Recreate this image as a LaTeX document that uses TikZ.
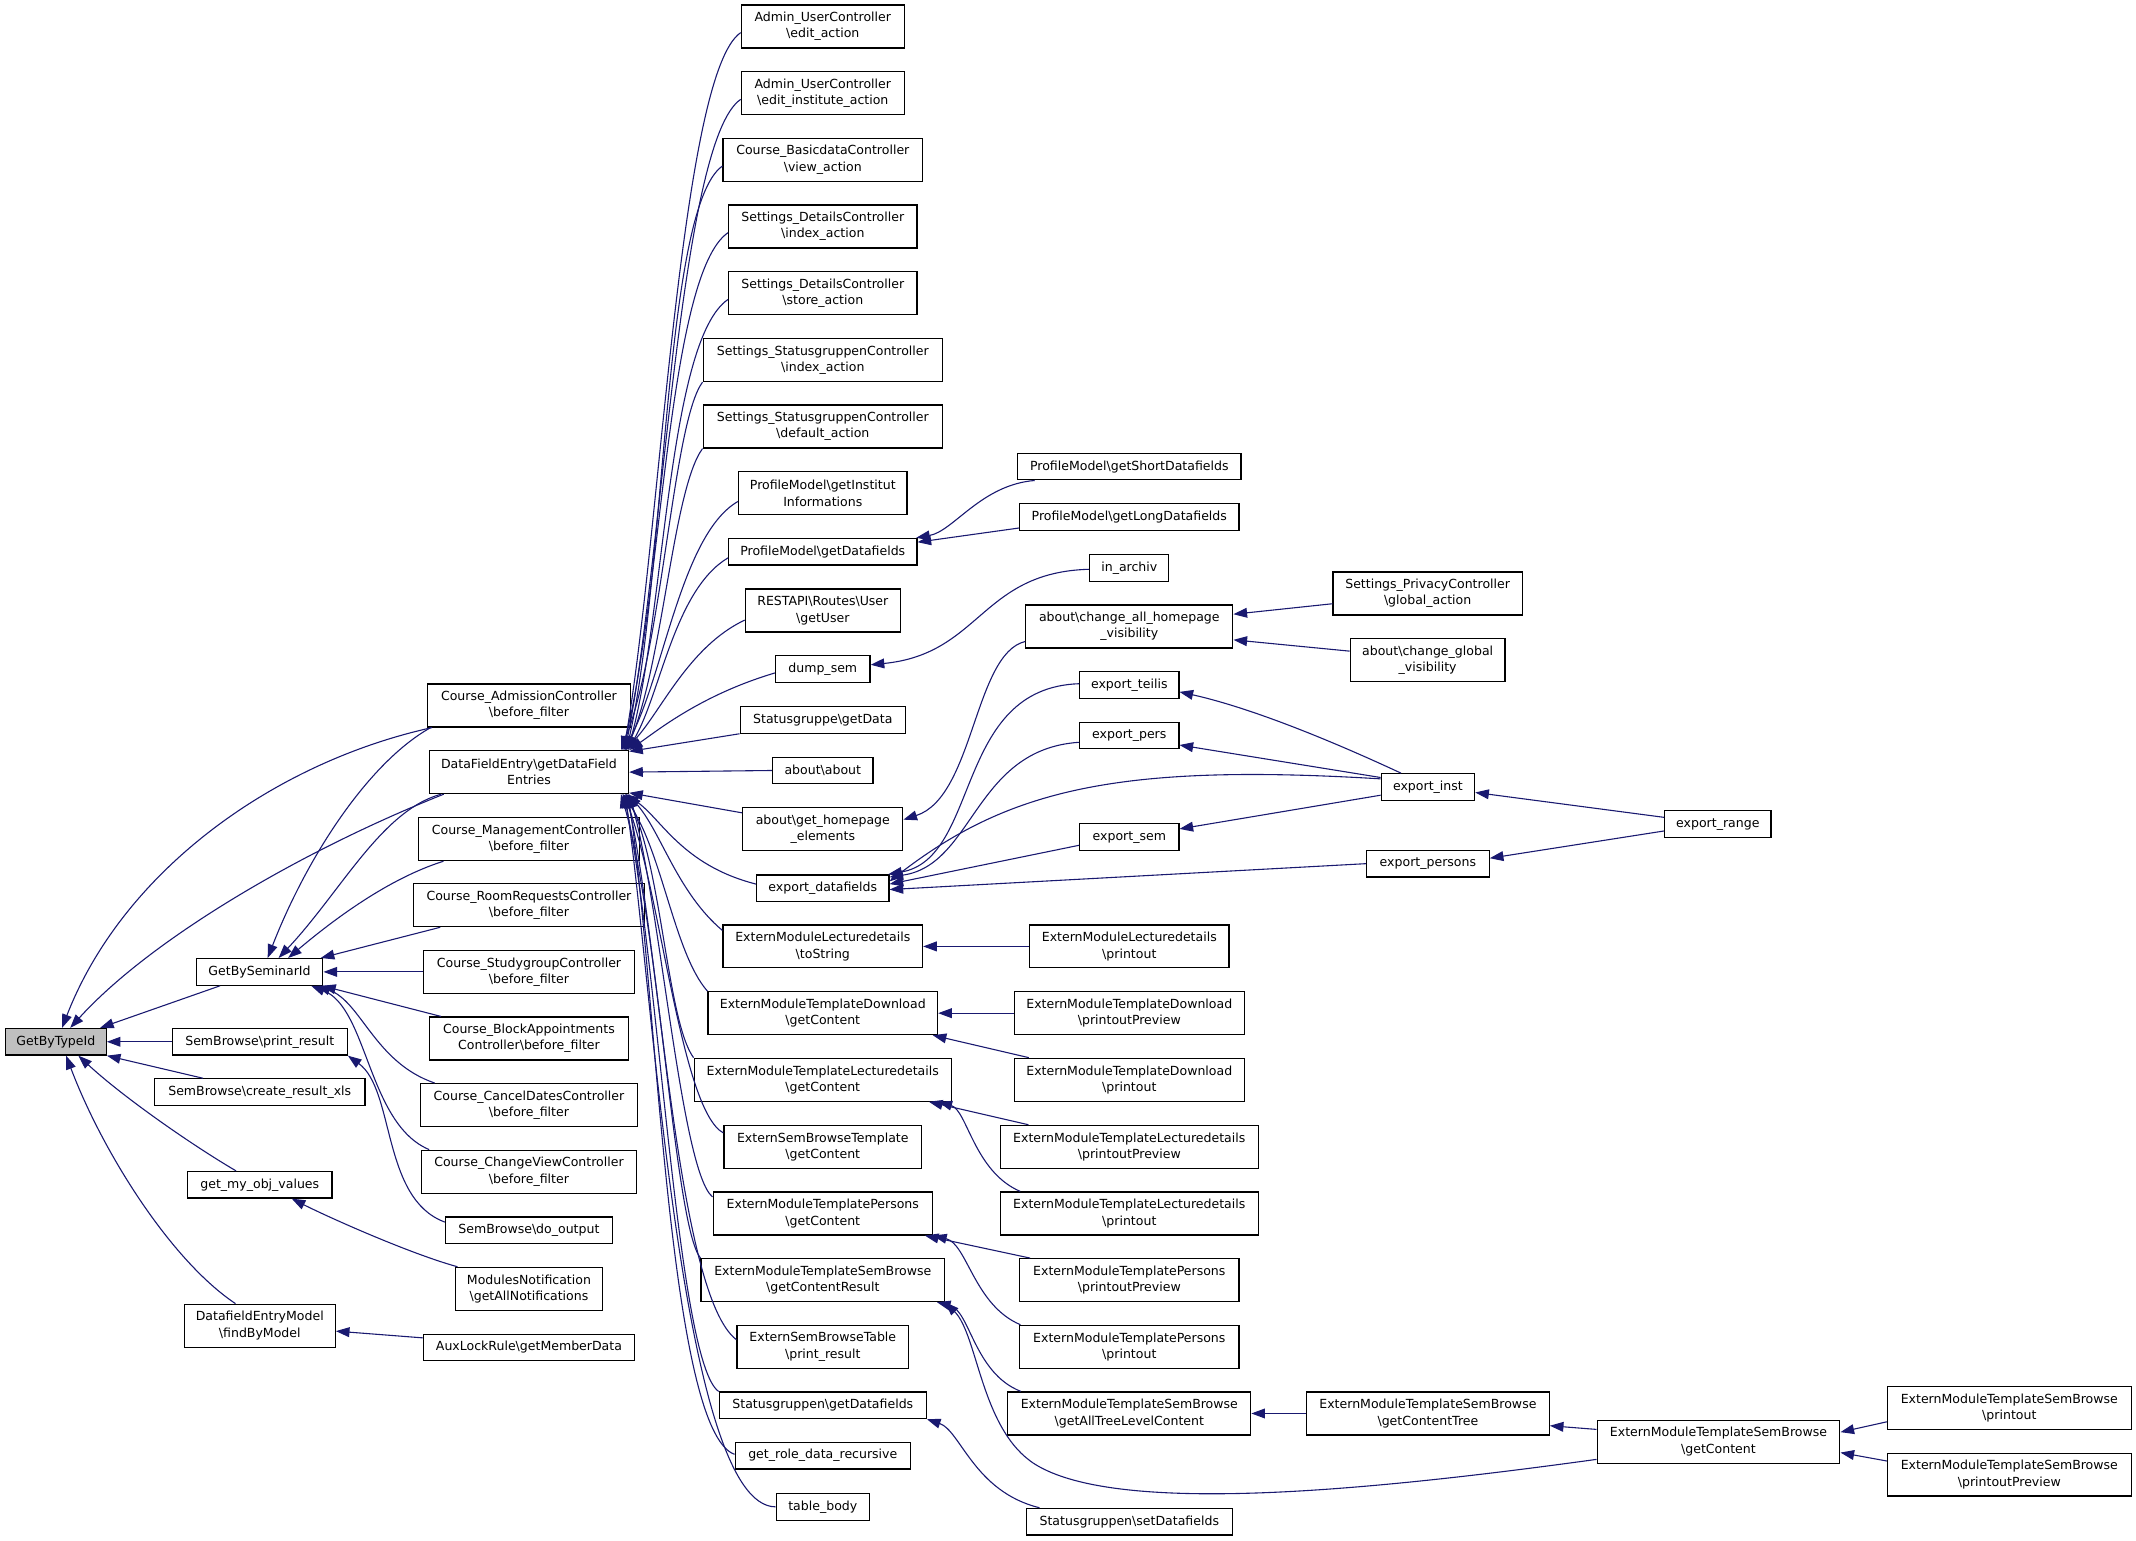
\documentclass[tikz,border=0pt]{standalone}
\usepackage{fontspec}
\newfontfamily\dvs{DejaVu Sans}
\usetikzlibrary{arrows.meta,calc}
\definecolor{mblue}{HTML}{191970}
\definecolor{rootfill}{HTML}{BFBFBF}
\newcommand{\bks}{\textbackslash}
\begin{document}
\begin{tikzpicture}[x=1pt,y=-1pt,
  box/.style={draw=black, line width=0.9pt, fill=white, inner sep=0pt, align=center,
              font=\dvs\fontsize{9.2}{12}\selectfont},
  b1/.style={box, minimum height=19.5pt},
  b2/.style={box, minimum height=31.5pt},
  cedge/.style={draw=mblue, line width=0.8pt, arrows={Triangle[length=10pt,width=7.2pt]-}}]
\useasboundingbox (0,0) rectangle (1568,1131);
\fill[white] (0,0) rectangle (1568,1131);
% ---------- column 0
\node[b1, minimum width=74pt, fill=rootfill] (gbt) at (41,764.75) {GetByTypeId};
% ---------- column 1
\node[b1, minimum width=93pt] (gbs) at (190.5,713.45) {GetBySeminarId};
\node[b1, minimum width=128.5pt] (spr) at (190.7,764.75) {SemBrowse\bks print\_result};
\node[b1, minimum width=154.6pt] (scx) at (190.7,801.7) {SemBrowse\bks create\_result\_xls};
\node[b1, minimum width=106pt] (gmov) at (190.7,869.7) {get\_my\_obj\_values};
\node[b2, minimum width=110.8pt] (dem) at (190.7,973.15) {DatafieldEntryModel\\\bks findByModel};
% ---------- column 2
\node[b2, minimum width=149.4pt] (cac) at (388.3,517.9) {Course\_AdmissionController\\\bks before\_filter};
\node[b2, minimum width=146.2pt] (dfe) at (388.3,566.8) {DataFieldEntry\bks getDataField\\Entries};
\node[b2, minimum width=162.6pt] (cmc) at (388.3,616) {Course\_ManagementController\\\bks before\_filter};
\node[b2, minimum width=169.4pt] (crr) at (388.3,664.5) {Course\_RoomRequestsController\\\bks before\_filter};
\node[b2, minimum width=155pt] (csg) at (388.3,713.45) {Course\_StudygroupController\\\bks before\_filter};
\node[b2, minimum width=146.2pt] (cba) at (388.3,762.35) {Course\_BlockAppointments\\Controller\bks before\_filter};
\node[b2, minimum width=159.6pt] (ccd) at (388.3,811.2) {Course\_CancelDatesController\\\bks before\_filter};
\node[b2, minimum width=157.6pt] (ccv) at (388.3,860.1) {Course\_ChangeViewController\\\bks before\_filter};
\node[b1, minimum width=122.6pt] (sdo) at (388.3,903.1) {SemBrowse\bks do\_output};
\node[b2, minimum width=108.1pt] (mn) at (388.3,946.1) {ModulesNotification\\\bks getAllNotifications};
\node[b1, minimum width=155pt] (alr) at (388.3,989.1) {AuxLockRule\bks getMemberData};
% ---------- column 3
\node[b2, minimum width=119.6pt] (aue) at (604,19.45) {Admin\_UserController\\\bks edit\_action};
\node[b2, minimum width=119.6pt] (auei) at (604,68.45) {Admin\_UserController\\\bks edit\_institute\_action};
\node[b2, minimum width=146.4pt] (cbv) at (604,117.35) {Course\_BasicdataController\\\bks view\_action};
\node[b2, minimum width=138.2pt] (sdi) at (604,166.3) {Settings\_DetailsController\\\bks index\_action};
\node[b2, minimum width=138.2pt] (sds) at (604,215.3) {Settings\_DetailsController\\\bks store\_action};
\node[b2, minimum width=175.7pt] (ssi) at (604,264.3) {Settings\_StatusgruppenController\\\bks index\_action};
\node[b2, minimum width=175.7pt] (ssd) at (604,313.1) {Settings\_StatusgruppenController\\\bks default\_action};
\node[b2, minimum width=123.6pt] (pgi) at (604,362.1) {ProfileModel\bks getInstitut\\Informations};
\node[b1, minimum width=138.2pt] (pgd) at (604,405) {ProfileModel\bks getDatafields};
\node[b2, minimum width=113.8pt] (rest) at (604,448.2) {RESTAPI\bks Routes\bks User\\\bks getUser};
\node[b1, minimum width=69.4pt] (dump) at (604,491) {dump\_sem};
\node[b1, minimum width=121.4pt] (sgd) at (604,528.45) {Statusgruppe\bks getData};
\node[b1, minimum width=73.7pt] (aa) at (604,565.6) {about\bks about};
\node[b2, minimum width=117.5pt] (ghe) at (604,608.7) {about\bks get\_homepage\\\_elements};
\node[b1, minimum width=97.1pt] (edf) at (604,652) {export\_datafields};
\node[b2, minimum width=146.4pt] (lts) at (604,694.75) {ExternModuleLecturedetails\\\bks toString};
\node[b2, minimum width=168.5pt] (tdg) at (604,743.75) {ExternModuleTemplateDownload\\\bks getContent};
\node[b2, minimum width=188.9pt] (tlg) at (604,792.6) {ExternModuleTemplateLecturedetails\\\bks getContent};
\node[b2, minimum width=145.1pt] (sbt) at (604,841.85) {ExternSemBrowseTemplate\\\bks getContent};
\node[b2, minimum width=161pt] (tpg) at (604,890.8) {ExternModuleTemplatePersons\\\bks getContent};
\node[b2, minimum width=178.7pt] (tsr) at (604,939.7) {ExternModuleTemplateSemBrowse\\\bks getContentResult};
\node[b2, minimum width=126pt] (sbtp) at (604,988.65) {ExternSemBrowseTable\\\bks print\_result};
\node[b1, minimum width=152pt] (sgdf) at (604,1031.65) {Statusgruppen\bks getDatafields};
\node[b1, minimum width=128.7pt] (grd) at (604,1068.6) {get\_role\_data\_recursive};
\node[b1, minimum width=68.3pt] (tb) at (604,1106.15) {table\_body};
% ---------- column 4
\node[b1, minimum width=164pt] (psd) at (829,342.5) {ProfileModel\bks getShortDatafields};
\node[b1, minimum width=161pt] (pld) at (829,379.6) {ProfileModel\bks getLongDatafields};
\node[b1, minimum width=58pt] (ia) at (829,416.9) {in\_archiv};
\node[b2, minimum width=152pt] (cahv) at (829,459.9) {about\bks change\_all\_homepage\\\_visibility};
\node[b1, minimum width=72.8pt] (et) at (829,502.9) {export\_teilis};
\node[b1, minimum width=72.8pt] (ep) at (829,539.9) {export\_pers};
\node[b1, minimum width=72.8pt] (es) at (829,614.5) {export\_sem};
\node[b2, minimum width=146.3pt] (lp) at (829,694.75) {ExternModuleLecturedetails\\\bks printout};
\node[b2, minimum width=168.6pt] (tdpp) at (829,743.75) {ExternModuleTemplateDownload\\\bks printoutPreview};
\node[b2, minimum width=168.6pt] (tdp) at (829,792.6) {ExternModuleTemplateDownload\\\bks printout};
\node[b2, minimum width=189.2pt] (tlpp) at (829,841.85) {ExternModuleTemplateLecturedetails\\\bks printoutPreview};
\node[b2, minimum width=189.2pt] (tlp) at (829,890.8) {ExternModuleTemplateLecturedetails\\\bks printout};
\node[b2, minimum width=161pt] (tppp) at (829,939.7) {ExternModuleTemplatePersons\\\bks printoutPreview};
\node[b2, minimum width=161pt] (tpp) at (829,988.65) {ExternModuleTemplatePersons\\\bks printout};
\node[b2, minimum width=178.3pt] (tsa) at (829,1037.6) {ExternModuleTemplateSemBrowse\\\bks getAllTreeLevelContent};
\node[b1, minimum width=151pt] (ssdf) at (829,1117) {Statusgruppen\bks setDatafields};
% ---------- column 5
\node[b2, minimum width=138.8pt] (spg) at (1048,435.7) {Settings\_PrivacyController\\\bks global\_action};
\node[b2, minimum width=113.5pt] (acgv) at (1048,484.5) {about\bks change\_global\\\_visibility};
\node[b1, minimum width=68.6pt] (ei) at (1048.2,577.75) {export\_inst};
\node[b1, minimum width=90pt] (eps) at (1048.2,634) {export\_persons};
\node[b2, minimum width=178.1pt] (tsct) at (1048.2,1037.6) {ExternModuleTemplateSemBrowse\\\bks getContentTree};
% ---------- column 6
\node[b1, minimum width=78pt] (er) at (1261,605) {export\_range};
\node[b2, minimum width=178.2pt] (tsg) at (1261.5,1058.3) {ExternModuleTemplateSemBrowse\\\bks getContent};
% ---------- column 7
\node[b2, minimum width=178.8pt] (tspo) at (1475,1033.7) {ExternModuleTemplateSemBrowse\\\bks printout};
\node[b2, minimum width=178.8pt] (tspp) at (1475,1082.5) {ExternModuleTemplateSemBrowse\\\bks printoutPreview};

% ================= edges (arrow tip at the callee)
% into GetByTypeId
\draw[cedge] ($(gbt.north west)+(42,0)$) .. controls (90,640) and (200,560) .. ($(cac.south west)+(4,0)$);
\draw[cedge] ($(gbt.north west)+(48,0)$) .. controls (110,690) and (220,625) .. ($(dfe.south west)+(11,0)$);
\draw[cedge] ($(gbt.north east)+(-5,0)$) -- ($(gbs.south west)+(18,0)$);
\draw[cedge] (gbt.east) -- (spr.west);
\draw[cedge] (gbt.south east) -- ($(scx.north west)+(36,0)$);
\draw[cedge] ($(gbt.south west)+(54,0)$) .. controls (90,805) and (140,840) .. ($(gmov.north west)+(36,0)$);
\draw[cedge] ($(gbt.south west)+(45,0)$) .. controls (75,845) and (125,925) .. ($(dem.north west)+(38,0)$);
% into GetBySeminarId
\draw[cedge] ($(gbs.north)+(6,0)$) .. controls (225,630) and (270,560) .. ($(cac.south west)+(3,0)$);
\draw[cedge] ($(gbs.north)+(14,0)$) .. controls (250,655) and (280,595) .. ($(dfe.south west)+(9,0)$);
\draw[cedge] ($(gbs.north)+(21,0)$) .. controls (245,675) and (285,645) .. ($(cmc.south west)+(19,0)$);
\draw[cedge] ($(gbs.north east)+(-2,0)$) -- ($(crr.south west)+(20,0)$);
\draw[cedge] (gbs.east) -- (csg.west);
\draw[cedge] ($(gbs.south east)+(-1,0)$) -- ($(cba.north west)+(9,0)$);
\draw[cedge] ($(gbs.south east)+(-5,0)$) .. controls (265,735) and (275,780) .. ($(ccd.north west)+(11,0)$);
\draw[cedge] ($(gbs.south east)+(-9,0)$) .. controls (270,740) and (270,825) .. ($(ccv.north west)+(6,0)$);
% other left edges
\draw[cedge] (spr.south east) .. controls (290,800) and (280,880) .. ($(sdo.west)+(0,-6)$);
\draw[cedge] ($(gmov.south east)+(-30,0)$) .. controls (240,893) and (300,920) .. ($(mn.north west)+(2,0)$);
\draw[cedge] ($(dem.east)+(0,4)$) -- ($(alr.west)+(0,-7)$);
% into DataFieldEntry\getDataFieldEntries (upper)
\draw[cedge] ($(dfe.north east)+(-4,0)$) .. controls (485,393) and (499,54) .. ($(aue.west)+(0,4.5)$);
\draw[cedge] ($(dfe.north east)+(-3,0)$) .. controls (487,408) and (499,103) .. ($(auei.west)+(0,4.5)$);
\draw[cedge] ($(dfe.north east)+(-2,0)$) .. controls (489,422) and (487,152) .. ($(cbv.west)+(0,4.5)$);
\draw[cedge] ($(dfe.north east)+(-5,0)$) .. controls (486,437) and (490,201) .. ($(sdi.west)+(0,4.5)$);
\draw[cedge] ($(dfe.north east)+(-1,0)$) .. controls (488,452) and (490,250) .. ($(sds.west)+(0,4.5)$);
\draw[cedge] ($(dfe.north east)+(-6,0)$) .. controls (487,470) and (494,310) .. (ssi.south west);
\draw[cedge] ($(dfe.north east)+(-2,0)$) .. controls (487,484) and (494,359) .. (ssd.south west);
\draw[cedge] ($(dfe.north east)+(-4,0)$) .. controls (487,497) and (500,392) .. ($(pgi.west)+(0,6)$);
\draw[cedge] ($(dfe.north east)+(-1,0)$) .. controls (485,509) and (495,433) .. ($(pgd.west)+(0,4.5)$);
\draw[cedge] ($(dfe.north east)+(-3,0)$) .. controls (485,523) and (505,475) .. ($(rest.west)+(0,7)$);
\draw[cedge] (dfe.north east) .. controls (483,536) and (515,510) .. ($(dump.west)+(0,3)$);
% straight ones
\draw[cedge] ($(dfe.north east)+(0,1)$) -- (sgd.south west);
\draw[cedge] (dfe.east) -- (aa.west);
\draw[cedge] ($(dfe.south east)+(0,-1)$) -- ($(ghe.west)+(0,-12)$);
% lower
\draw[cedge] ($(dfe.south east)+(-3,0)$) .. controls (485,600) and (500,635) .. ($(edf.west)+(0,-3)$);
\draw[cedge] ($(dfe.south east)+(-1,0)$) .. controls (485,610) and (497,655) .. ($(lts.north west)+(0,4.5)$);
\draw[cedge] ($(dfe.south east)+(-5,0)$) .. controls (486,625) and (495,700) .. (tdg.north west);
\draw[cedge] ($(dfe.south east)+(-2,0)$) .. controls (486,640) and (490,750) .. (tlg.north west);
\draw[cedge] ($(dfe.south east)+(-4,0)$) .. controls (485,655) and (500,815) .. ($(sbt.north west)+(0,6)$);
\draw[cedge] (dfe.south east) .. controls (485,665) and (500,860) .. ($(tpg.north west)+(0,4)$);
\draw[cedge] ($(dfe.south east)+(-6,0)$) .. controls (484,680) and (495,900) .. (tsr.north west);
\draw[cedge] ($(dfe.south east)+(-2,0)$) .. controls (485,700) and (497,950) .. ($(sbtp.north west)+(0,11)$);
\draw[cedge] ($(dfe.south east)+(-4,0)$) .. controls (484,710) and (497,1000) .. (sgdf.north west);
\draw[cedge] ($(dfe.south east)+(-1,0)$) .. controls (482,720) and (490,1050) .. ($(grd.west)+(0,-1)$);
\draw[cedge] ($(dfe.south east)+(-3,0)$) .. controls (480,730) and (500,1106) .. (tb.west);
% column 3 <- column 4
\draw[cedge] ($(pgd.north east)+(-1,0)$) .. controls (700,390) and (720,356) .. ($(psd.south west)+(13,0)$);
\draw[cedge] ($(pgd.east)+(0,-7)$) -- ($(pld.west)+(0,8)$);
\draw[cedge] ($(dump.east)+(0,-3)$) .. controls (720,480) and (720,420) .. ($(ia.west)+(0,1)$);
\draw[cedge] ($(ghe.east)+(0,-7)$) .. controls (715,585) and (715,480) .. ($(cahv.west)+(0,11)$);
\draw[cedge] ($(cahv.east)+(0,-9)$) -- ($(spg.west)+(0,7.5)$);
\draw[cedge] ($(cahv.east)+(0,9.8)$) -- ($(acgv.west)+(0,-6.5)$);
\draw[cedge] ($(edf.north east)+(-1,0)$) .. controls (720,630) and (700,505) .. ($(et.west)+(0,-1)$);
\draw[cedge] ($(edf.north east)+(0,2)$) .. controls (715,635) and (715,550) .. ($(ep.west)+(0,5)$);
\draw[cedge] ($(edf.east)+(0,-5)$) .. controls (740,580) and (820,560) .. ($(ei.west)+(0,-6)$);
\draw[cedge] ($(edf.east)+(0,-3)$) -- ($(es.west)+(0,6)$);
\draw[cedge] ($(edf.east)+(0,1)$) -- (eps.west);
\draw[cedge] ($(et.east)+(0,5)$) .. controls (920,520) and (980,545) .. ($(ei.north west)+(15,0)$);
\draw[cedge] ($(ep.east)+(0,7)$) -- ($(ei.west)+(0,-7)$);
\draw[cedge] ($(es.east)+(0,-6)$) -- ($(ei.west)+(0,6)$);
\draw[cedge] ($(ei.east)+(0,4)$) -- ($(er.west)+(0,-5)$);
\draw[cedge] ($(eps.east)+(0,-4)$) -- ($(er.west)+(0,5)$);
% lower extern modules
\draw[cedge] (lts.east) -- (lp.west);
\draw[cedge] (tdg.east) -- (tdpp.west);
\draw[cedge] ($(tdg.south east)+(-4,0)$) -- ($(tdp.north west)+(11,0)$);
\draw[cedge] ($(tlg.south east)+(-17,0)$) -- ($(tlpp.north west)+(21,0)$);
\draw[cedge] ($(tlg.south east)+(-10,0)$) .. controls (710,815) and (715,860) .. ($(tlp.north west)+(15,0)$);
\draw[cedge] ($(tpg.south east)+(-6,0)$) -- ($(tppp.north west)+(8,0)$);
\draw[cedge] (tpg.south east) .. controls (710,913) and (715,958) .. ($(tpp.north west)+(1,0)$);
\draw[cedge] ($(tsr.south east)+(-6,0)$) .. controls (712,962) and (715,1008) .. ($(tsa.north west)+(10,0)$);
\draw[cedge] (tsr.south east) .. controls (718,980) and (720,1050) .. (760,1075) .. controls (820,1112) and (1000,1095) .. ($(tsg.west)+(0,13)$);
\draw[cedge] (sgdf.south east) .. controls (705,1050) and (715,1095) .. ($(ssdf.north west)+(10,0)$);
\draw[cedge] (tsa.east) -- (tsct.west);
\draw[cedge] ($(tsct.east)+(0,9)$) -- ($(tsg.west)+(0,-9)$);
\draw[cedge] ($(tsg.east)+(0,-7)$) -- ($(tspo.west)+(0,10)$);
\draw[cedge] ($(tsg.east)+(0,8)$) -- ($(tspp.west)+(0,-10)$);
\end{tikzpicture}
\end{document}
